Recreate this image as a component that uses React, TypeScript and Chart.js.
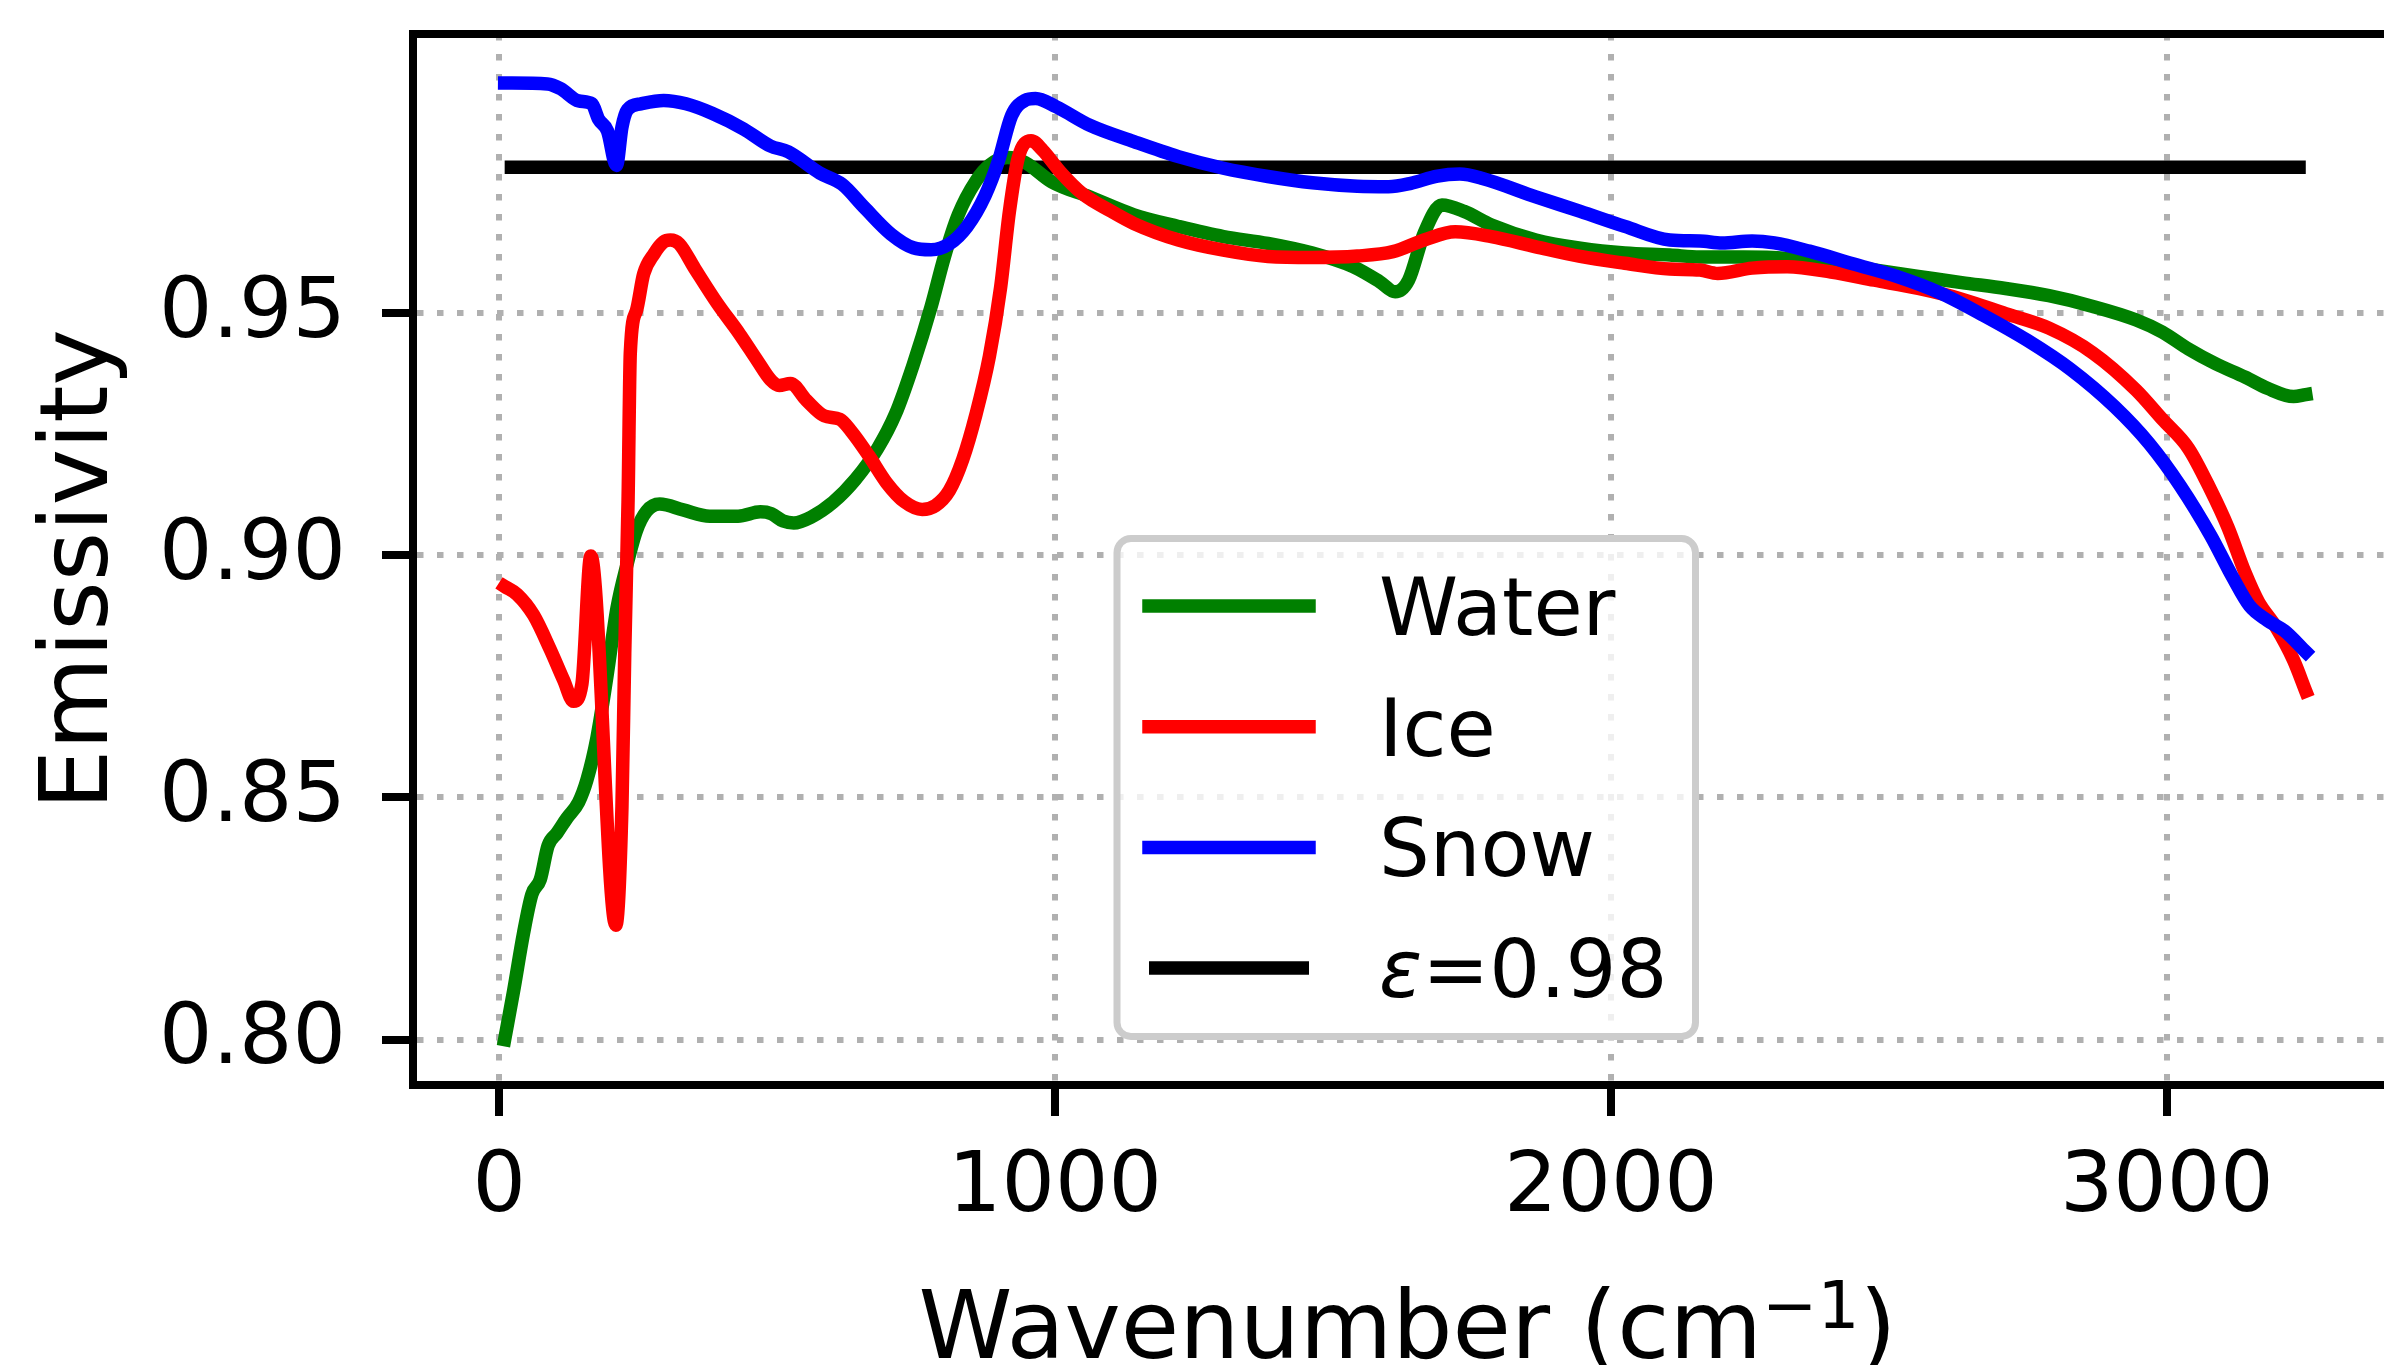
import React, { useEffect, useRef } from "react";
import { Chart, registerables } from "chart.js";

Chart.register(...registerables);

// ---- Data ----
const waterX = [10, 26, 44, 59, 74, 88, 104, 122, 143, 158, 176, 194, 212, 230, 247, 265, 289, 331, 379, 430, 470, 490, 511, 530, 561, 601, 641, 681, 713, 745, 777, 801, 826, 858, 882, 914, 946, 994, 1062, 1142, 1222, 1303, 1383, 1463, 1536, 1584, 1612, 1636, 1664, 1696, 1736, 1785, 1865, 1945, 2025, 2106, 2160, 2239, 2317, 2396, 2474, 2553, 2631, 2710, 2788, 2867, 2945, 2992, 3039, 3087, 3141, 3181, 3228, 3250];
const waterY = [0.800, 0.810, 0.822, 0.830, 0.833, 0.840, 0.8426, 0.8457, 0.849, 0.8536, 0.8623, 0.875, 0.889, 0.898, 0.905, 0.909, 0.9105, 0.9093, 0.908, 0.908, 0.9089, 0.9085, 0.9070, 0.9066, 0.9078, 0.9109, 0.9156, 0.922, 0.9291, 0.9393, 0.9512, 0.9615, 0.9702, 0.9772, 0.9804, 0.982, 0.981, 0.977, 0.9739, 0.9702, 0.9678, 0.9657, 0.9643, 0.9623, 0.9595, 0.9564, 0.9543, 0.9567, 0.9664, 0.9722, 0.9709, 0.9681, 0.9650, 0.9633, 0.9623, 0.9619, 0.9615, 0.9615, 0.9612, 0.9601, 0.9588, 0.9575, 0.9562, 0.9550, 0.9535, 0.9513, 0.9485, 0.9460, 0.9425, 0.9395, 0.9367, 0.9344, 0.9327, 0.9331];

const iceX = [10, 32, 62, 92, 116, 134, 149, 165, 210, 221, 226, 232, 236, 247, 260, 279, 296, 308, 324, 352, 392, 432, 464, 488, 504, 524, 553, 585, 613, 633, 665, 697, 729, 761, 785, 810, 834, 858, 882, 902, 918, 934, 957, 978, 1010, 1050, 1100, 1142, 1222, 1303, 1383, 1463, 1544, 1608, 1664, 1720, 1785, 1865, 1945, 2025, 2106, 2160, 2192, 2254, 2317, 2396, 2474, 2553, 2631, 2710, 2788, 2867, 2945, 2992, 3039, 3079, 3110, 3141, 3165, 3196, 3228, 3250];
const iceY = [0.8935, 0.8919, 0.8876, 0.8805, 0.8742, 0.8698, 0.8734, 0.8998, 0.8236, 0.8481, 0.8797, 0.9113, 0.9417, 0.9504, 0.958, 0.9622, 0.9646, 0.9650, 0.9642, 0.9591, 0.952, 0.9457, 0.9402, 0.9362, 0.935, 0.9354, 0.9319, 0.9287, 0.928, 0.9256, 0.9205, 0.9149, 0.911, 0.9094, 0.9102, 0.9133, 0.9197, 0.9291, 0.941, 0.9551, 0.9709, 0.982, 0.9855, 0.9835, 0.979, 0.9745, 0.971, 0.9684, 0.9650, 0.9629, 0.9616, 0.9614, 0.9617, 0.9626, 0.9650, 0.9667, 0.9657, 0.9636, 0.9616, 0.9602, 0.9590, 0.9588, 0.9581, 0.9592, 0.9595, 0.9584, 0.9567, 0.9550, 0.9528, 0.9498, 0.9468, 0.9417, 0.9340, 0.9280, 0.9220, 0.9134, 0.9057, 0.8963, 0.8903, 0.8852, 0.8783, 0.8719];

const snowX = [10, 87, 111, 143, 167, 179, 195, 211, 221, 231, 255, 296, 336, 384, 440, 488, 520, 577, 617, 657, 705, 745, 777, 810, 842, 874, 898, 922, 946, 965, 1002, 1062, 1142, 1222, 1303, 1383, 1463, 1544, 1600, 1640, 1688, 1728, 1769, 1865, 1945, 2025, 2106, 2160, 2200, 2254, 2294, 2357, 2435, 2514, 2592, 2671, 2749, 2827, 2906, 2969, 3024, 3079, 3118, 3149, 3181, 3212, 3250];
const snowY = [0.9974, 0.9972, 0.9962, 0.9937, 0.9931, 0.9899, 0.9875, 0.9804, 0.9883, 0.9919, 0.9931, 0.9938, 0.9931, 0.9911, 0.9879, 0.9844, 0.9832, 0.9788, 0.9765, 0.9717, 0.9662, 0.9634, 0.9630, 0.9642, 0.9678, 0.9741, 0.9812, 0.9907, 0.9938, 0.9942, 0.9925, 0.9887, 0.9853, 0.9822, 0.9798, 0.9781, 0.9768, 0.9761, 0.9760, 0.9767, 0.9782, 0.9786, 0.9777, 0.9739, 0.9709, 0.9678, 0.9650, 0.9648, 0.9644, 0.9648, 0.9644, 0.9627, 0.9601, 0.9575, 0.9541, 0.9494, 0.9443, 0.9383, 0.9306, 0.9229, 0.9143, 0.9040, 0.8955, 0.8895, 0.8865, 0.8843, 0.8800];

const epsX = [10, 3250];
const epsY = [0.98, 0.98];

const seriesLabels = ["Water", "Ice", "Snow", "ε=0.98"];
const seriesColors = ["#008000", "#ff0000", "#0000ff", "#000000"];

const xTicks = [0, 1000, 2000, 3000];
const yTicks = [0.8, 0.85, 0.9, 0.95];
const xRange = [-154.9, 3423.1];
const yRange = [0.79063, 1.00751];

const yTitle = "Emissivity";
const xTitleMain = "Wavenumber (cm";
const xTitleSup = "\u22121";
const xTitleEnd = ")";

const FAMILY = "'DejaVu Sans', sans-serif";

const toPoints = (xs: number[], ys: number[]) => xs.map((x, i) => ({ x, y: ys[i] }));

const decorPlugin = {
  id: "decor",
  afterDraw(chart: any) {
    const { ctx, chartArea: ca } = chart;
    ctx.save();
    // top / right spines
    ctx.strokeStyle = "#000";
    ctx.lineWidth = 8;
    ctx.lineCap = "butt";
    ctx.beginPath();
    ctx.moveTo(ca.left - 4, ca.top);
    ctx.lineTo(ca.right + 4, ca.top);
    ctx.moveTo(ca.right, ca.top);
    ctx.lineTo(ca.right, ca.bottom);
    ctx.stroke();

    // y title
    ctx.fillStyle = "#000";
    ctx.font = `95px ${FAMILY}`;
    ctx.textAlign = "center";
    ctx.textBaseline = "alphabetic";
    ctx.save();
    ctx.translate(ca.left - 306, (ca.top + ca.bottom) / 2 + 10);
    ctx.rotate(-Math.PI / 2);
    ctx.fillText(yTitle, 0, 0);
    ctx.restore();

    // x title with superscript
    const big = `95px ${FAMILY}`;
    const small = `66px ${FAMILY}`;
    ctx.textAlign = "left";
    ctx.font = big;
    const w1 = ctx.measureText(xTitleMain).width;
    const w3 = ctx.measureText(xTitleEnd).width;
    ctx.font = small;
    const w2 = ctx.measureText(xTitleSup).width;
    const x0 = (ca.left + ca.right) / 2 - (w1 + w2 + w3) / 2;
    const base = ca.bottom + 273;
    ctx.font = big;
    ctx.fillText(xTitleMain, x0, base);
    ctx.font = small;
    ctx.fillText(xTitleSup, x0 + w1, base - 30);
    ctx.font = big;
    ctx.fillText(xTitleEnd, x0 + w1 + w2, base);

    // legend
    const lx = ca.left + 704;
    const ly = ca.top + 504.5;
    const lw = 578.5;
    const lh = 498;
    ctx.beginPath();
    ctx.roundRect(lx, ly, lw, lh, 14);
    ctx.fillStyle = "rgba(255,255,255,0.8)";
    ctx.fill();
    ctx.strokeStyle = "#cccccc";
    ctx.lineWidth = 7;
    ctx.stroke();

    const ds = chart.data.datasets;
    ds.forEach((d: any, i: number) => {
      const y = ly + 67.5 + i * 120.7;
      ctx.strokeStyle = d.borderColor;
      ctx.lineWidth = 13.5;
      ctx.lineCap = d.borderCapStyle === "butt" ? "butt" : "square";
      ctx.beginPath();
      ctx.moveTo(lx + 32, y);
      ctx.lineTo(lx + 192, y);
      ctx.stroke();

      let tx = lx + 262;
      const by = y + 29;
      ctx.fillStyle = "#000";
      ctx.textAlign = "left";
      let text: string = d.label;
      if (text.startsWith("ε")) {
        ctx.font = `italic 80px ${FAMILY}`;
        ctx.fillText("ε", tx, by);
        tx += ctx.measureText("ε").width;
        text = text.slice(1);
      }
      ctx.font = `80px ${FAMILY}`;
      ctx.fillText(text, tx, by);
    });
    ctx.restore();
  },
};

export default function App() {
  const ref = useRef<HTMLCanvasElement>(null);

  useEffect(() => {
    const canvas = ref.current;
    if (!canvas) return;
    const seriesData = [
      toPoints(waterX, waterY),
      toPoints(iceX, iceY),
      toPoints(snowX, snowY),
      toPoints(epsX, epsY),
    ];
    const orders = [2, 1, 0, 3];
    const datasets = seriesData.map((data, i) => ({
      label: seriesLabels[i],
      data,
      borderColor: seriesColors[i],
      backgroundColor: seriesColors[i],
      borderWidth: 13.5,
      pointRadius: 0,
      pointHoverRadius: 0,
      fill: false,
      borderCapStyle: i === 3 ? "butt" : "square",
      borderJoinStyle: "round",
      cubicInterpolationMode: "monotone",
      order: orders[i],
    }));

    const chart = new Chart(canvas, {
      type: "line",
      data: { datasets } as any,
      plugins: [decorPlugin as any],
      options: {
        animation: false,
        responsive: false,
        devicePixelRatio: 1,
        events: [],
        layout: { padding: { top: 34, right: 18, bottom: 0, left: 0 } },
        plugins: {
          legend: { display: false },
          tooltip: { enabled: false },
          title: { display: false },
        },
        scales: {
          x: {
            type: "linear",
            position: "bottom",
            bounds: "data",
            min: xRange[0],
            max: xRange[1],
            afterBuildTicks: (s: any) => {
              s.ticks = xTicks.map((v) => ({ value: v }));
            },
            afterFit: (s: any) => {
              s.height = 280;
              s.paddingLeft = 0;
              s.paddingRight = 0;
            },
            ticks: {
              autoSkip: false,
              maxRotation: 0,
              minRotation: 0,
              padding: 23,
              color: "#000",
              font: { family: FAMILY, size: 84 },
              callback: (v: any) => String(v),
            },
            grid: {
              color: "#b0b0b0",
              lineWidth: 6,
              tickLength: 31,
              tickColor: "#000",
              tickWidth: 8,
              tickBorderDash: [],
            },
            border: { display: true, color: "#000", width: 8, dash: [6.5, 13.5] },
          },
          y: {
            type: "linear",
            position: "left",
            bounds: "data",
            min: yRange[0],
            max: yRange[1],
            afterBuildTicks: (s: any) => {
              s.ticks = yTicks.map((v) => ({ value: v }));
            },
            afterFit: (s: any) => {
              s.width = 413;
              s.paddingTop = 0;
              s.paddingBottom = 0;
            },
            ticks: {
              autoSkip: false,
              padding: 36,
              labelOffset: 2,
              color: "#000",
              font: { family: FAMILY, size: 84 },
              callback: (v: any) => Number(v).toFixed(2),
            },
            grid: {
              color: "#b0b0b0",
              lineWidth: 6,
              tickLength: 31,
              tickColor: "#000",
              tickWidth: 8,
              tickBorderDash: [],
            },
            border: { display: true, color: "#000", width: 8, dash: [6.5, 13.5] },
          },
        },
      } as any,
    });
    return () => chart.destroy();
  }, []);

  return (
    <div
      style={{
        position: "fixed",
        left: 0,
        top: 0,
        width: 2384,
        height: 1365,
        overflow: "hidden",
        background: "#fff",
      }}
    >
      <canvas ref={ref} width={2420} height={1365} style={{ display: "block" }} />
    </div>
  );
}
